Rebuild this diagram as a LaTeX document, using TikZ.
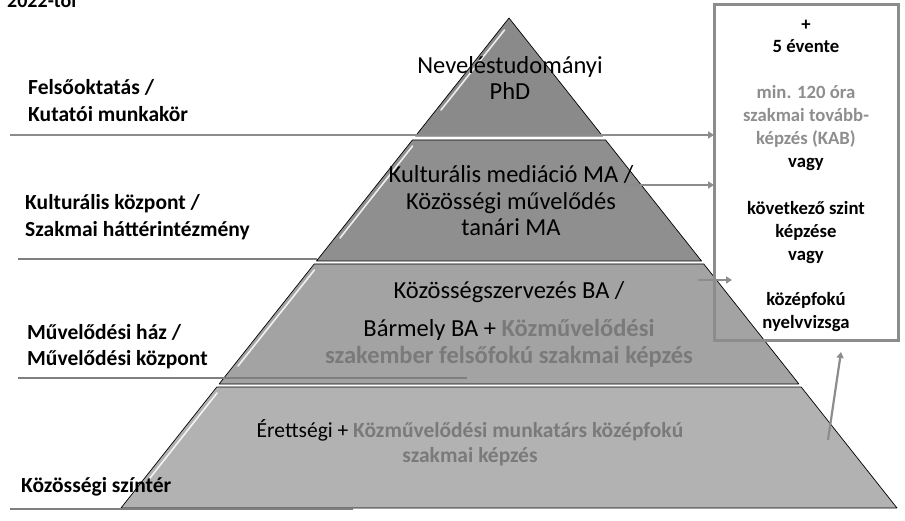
\documentclass[tikz,border=0pt]{standalone}
\usepackage{fontspec}
\setmainfont{Carlito}
\usetikzlibrary{arrows.meta}
\definecolor{layA}{HTML}{8A8A8A}
\definecolor{layB}{HTML}{8F8F8F}
\definecolor{layC}{HTML}{A3A3A3}
\definecolor{layD}{HTML}{B2B2B2}
\definecolor{linegray}{HTML}{7F7F7F}
\definecolor{boxgray}{HTML}{8C8C8C}
\definecolor{txtgray}{HTML}{7A7A7A}
\definecolor{boxtxtgray}{HTML}{8E8E8E}
\begin{document}
\begin{tikzpicture}[x=1pt,y=-1pt,
  layer/.style={draw=black, line width=0.7pt, line join=round},
  hilite/.style={draw=white, line width=1.6pt, opacity=0.85, line cap=round},
  guide/.style={draw=linegray, line width=2.6pt},
  conn/.style={draw=boxgray, line width=2.2pt, -{Triangle[length=6pt,width=7pt]}},
  lbl/.style={font=\fontsize{21.5}{27}\selectfont\bfseries, anchor=base west, align=left, inner sep=0pt},
  pyr/.style={font=\fontsize{24.5}{26.5}\selectfont, anchor=base, align=center, inner sep=0pt},
  boxtxt/.style={font=\fontsize{18.7}{23}\selectfont\bfseries, anchor=base, align=center, inner sep=0pt},
]
\useasboundingbox (0,0) rectangle (905,521);
\fill[white] (0,0) rectangle (905,521);

% pyramid layers
\path[layer, fill=layA] (509,18) -- (602.5,136) -- (415.5,136) -- cycle;
\path[layer, fill=layB] (412.4,140) -- (605.6,140) -- (701.5,261) -- (316.5,261) -- cycle;
\path[layer, fill=layC] (314.2,264) -- (703.8,264) -- (798.9,384) -- (219.1,384) -- cycle;
\path[layer, fill=layD] (216.8,387) -- (801.2,387) -- (897,508) -- (121,508) -- cycle;
% bevel highlights
\draw[hilite] (504.5,30) -- (441,110);
\draw[hilite] (412.6,146) -- (340,238);
\draw[hilite] (314.4,270) -- (238,366);
\draw[hilite] (217,393) -- (150,478);

% guide lines
\coordinate (g1s) at (10,135);
\coordinate (g2s) at (18,259);
\coordinate (g2e) at (317,259);
\coordinate (g3s) at (18,378);
\coordinate (g3e) at (467,378);
\coordinate (g4s) at (10,509);
\coordinate (g4e) at (353,509);
\draw[guide] (g2s) -- (g2e);
\draw[guide] (g3s) -- (g3e);
\draw[guide] (g4s) -- (g4e);

% box
\node[draw=boxgray, line width=3pt, outer sep=0pt, inner sep=0pt, minimum width=184pt, minimum height=336pt, anchor=north west] (box) at (714,5) {};

% connectors
\draw[conn, line width=2.6pt] (g1s) -- (g1s -| box.west);
\coordinate (a2s) at (625,185);
\draw[conn] (a2s) -- (a2s -| box.west);
\coordinate (a3s) at (698,280);
\coordinate (a3e) at (732,280);
\draw[conn] (a3s) -- (a3e);
\coordinate (a4s) at (828,440);
\coordinate (a4e) at (841,352);
\draw[conn] (a4s) -- (a4e);

% left labels (anchor = baseline of last line)
\node[lbl, font=\fontsize{20}{24}\selectfont\bfseries] (year) at (7,8) {2022-tól};
\node[lbl] (lab1) at (28,122) {Felsőoktatás /\\Kutatói munkakör};
\node[lbl] (lab2) at (25,237) {Kulturális központ /\\Szakmai háttérintézmény};
\node[lbl] (lab3) at (27,366) {Művelődési ház /\\Művelődési központ};
\node[lbl] (lab4) at (21,492) {Közösségi színtér};

% pyramid texts
\node[pyr] (p1) at (510,100) {Neveléstudományi\\PhD};
\node[pyr] (p2) at (511,236) {Kulturális mediáció MA /\\Közösségi művelődés\\tanári MA};
\node[pyr] (p3) at (509,363) {Közösségszervezés BA /\\[12pt]Bármely BA + {\bfseries\color{txtgray}Közművelődési}\\{\bfseries\color{txtgray}szakember felsőfokú szakmai képzés}};
\node[pyr, font=\fontsize{21.5}{25}\selectfont] (p4) at (470,462) {Érettségi + {\bfseries\color{txtgray}Közművelődési munkatárs középfokú}\\{\bfseries\color{txtgray}szakmai képzés}};

% box text
\node[boxtxt] (btxt) at (806,329) {+\\5 évente\\[23pt]{\color{boxtxtgray}min. 120 óra}\\{\color{boxtxtgray}szakmai tovább-}\\{\color{boxtxtgray}képzés (KAB)}\\vagy\\[23pt]következő szint\\képzése\\vagy\\[23pt]középfokú\\nyelvvizsga};
\end{tikzpicture}
\end{document}
